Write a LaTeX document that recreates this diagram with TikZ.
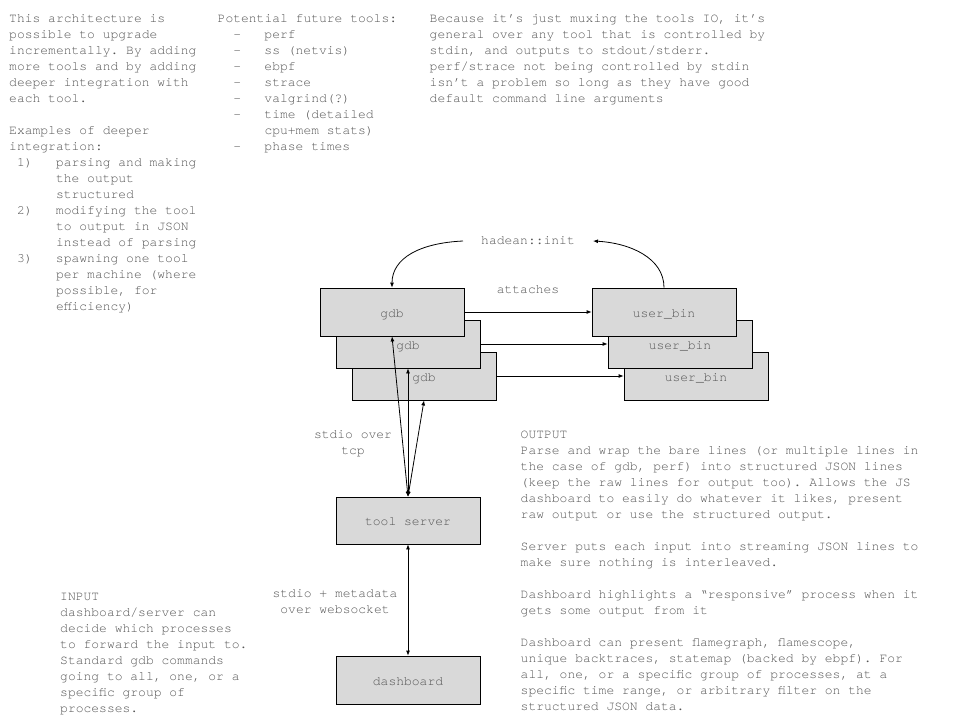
\documentclass[tikz,border=0pt]{standalone}
\usepackage{fontspec}
\setmonofont{TeX Gyre Cursor}
\usepackage{tikz}
\usetikzlibrary{arrows.meta}
\definecolor{notegray}{HTML}{555555}
\definecolor{boxgray}{HTML}{D9D9D9}
\newcommand{\mono}{\ttfamily\fontsize{13}{16}\selectfont\frenchspacing}
\newcommand{\numitem}[2]{\makebox[3.6em][l]{\hspace*{0.6em}#1}#2}
\newcommand{\contline}[1]{\hspace*{3.6em}#1}
\newcommand{\dashitem}[1]{\makebox[3.6em][l]{\hspace*{1.2em}-}#1}

\begin{document}
\begin{tikzpicture}[x=1pt, y=-1pt,
    box/.style={draw, line width=0.8pt, fill=boxgray, minimum width=144pt,
      minimum height=48pt, inner sep=0pt, text height=10pt, text depth=0pt,
      font=\mono, text=notegray},
    note/.style={font=\mono, text=notegray, align=left, anchor=north west, inner sep=0pt},
    lbl/.style={font=\mono, text=notegray, align=center, inner sep=0pt},
    link/.style={line width=0.8pt, -{Latex[length=5pt, width=4pt]}},
    twoway/.style={line width=0.8pt, {Latex[length=5pt, width=4pt]}-{Latex[length=5pt, width=4pt]}}]
          \useasboundingbox (0,0) rectangle (960,720);
          % notes at the top (first baseline = y + 11.2)
          \node[note] (upgrade) at (9,10.8)
            {\strut This architecture is\\possible to upgrade\\incrementally. By adding\\
             more tools and by adding\\deeper integration with\\each tool.\\\strut\\
             Examples of deeper\\integration:\\
             \numitem{1)}{parsing and making}\\\contline{the output}\\\contline{structured}\\
             \numitem{2)}{modifying the tool}\\\contline{to output in JSON}\\\contline{instead of parsing}\\
             \numitem{3)}{spawning one tool}\\\contline{per machine (where}\\\contline{possible, for}\\
             \contline{efficiency)}};
          \node[note] (future) at (217.5,10.8)
            {\strut Potential future tools:\\\dashitem{perf}\\\dashitem{ss (netvis)}\\\dashitem{ebpf}\\
             \dashitem{strace}\\\dashitem{valgrind(?)}\\\dashitem{time (detailed}\\
             \contline{cpu+mem stats)}\\\dashitem{phase times}};
          \node[note] (muxing) at (429.5,10.8)
            {\strut Because it’s just muxing the tools IO, it’s\\general over any tool that is controlled by\\
             stdin, and outputs to stdout/stderr.\\perf/strace not being controlled by stdin\\
             isn’t a problem so long as they have good\\default command line arguments};
          % tool processes
          \node[box] (gdbC) at (424,376) {gdb};
          \node[box] (gdbB) at (408,344) {gdb};
          \node[box] (gdbA) at (392,312) {gdb};
          \node[box] (binC) at (696,376) {user\_bin};
          \node[box] (binB) at (680,344) {user\_bin};
          \node[box] (binA) at (664,312) {user\_bin};
          \node[box, minimum height=47pt] (server) at (408,520.5) {tool server};
          \node[box] (dashbd) at (408,680) {dashboard};
          \node[lbl, inner xsep=18pt, inner ysep=2pt] (init) at (528,241) {hadean::init};
          \node[lbl, anchor=base] (attaches) at (528,293) {attaches};
          \node[lbl, anchor=north] (overtcp) at (353,426.8) {\strut stdio over\\tcp};
          \node[lbl, anchor=north] (overws) at (335,586.3) {\strut stdio + metadata\\over websocket};
          \draw[link] (init.west) .. controls (420,243) and (392,258) .. (gdbA.north);
          \draw[link] (binA.north) .. controls (664,258) and (630,243) .. (init.east);
          \draw[link] (gdbA.east) -- (binA.west);
          \draw[link] (gdbB.east) -- (binB.west);
          \draw[link] (gdbC.east) -- (binC.west);
          \draw[twoway] (server.north) -- (gdbA.south);
          \draw[twoway] (server.north) -- (gdbB.south);
          \draw[twoway] (server.north) -- (gdbC.south);
          \draw[twoway] (server.south) -- (dashbd.north);
          % notes at the bottom
          \node[note] (output) at (520.5,427.3)
            {\strut OUTPUT\\Parse and wrap the bare lines (or multiple lines in\\
             the case of gdb, perf) into structured JSON lines\\
             (keep the raw lines for output too). Allows the JS\\
             dashboard to easily do whatever it likes, present\\
             raw output or use the structured output.\\\strut\\
             Server puts each input into streaming JSON lines to\\
             make sure nothing is interleaved.\\\strut\\
             Dashboard highlights a “responsive” process when it\\
             gets some output from it\\\strut\\
             Dashboard can present flamegraph, flamescope,\\
             unique backtraces, statemap (backed by ebpf). For\\
             all, one, or a specific group of processes, at a\\
             specific time range, or arbitrary filter on the\\
             structured JSON data.};
          \node[note] (input) at (60,588.8)
            {\strut INPUT\\dashboard/server can\\decide which processes\\to forward the input to.\\
             Standard gdb commands\\going to all, one, or a\\specific group of\\processes.};
        \end{tikzpicture}
\end{document}
